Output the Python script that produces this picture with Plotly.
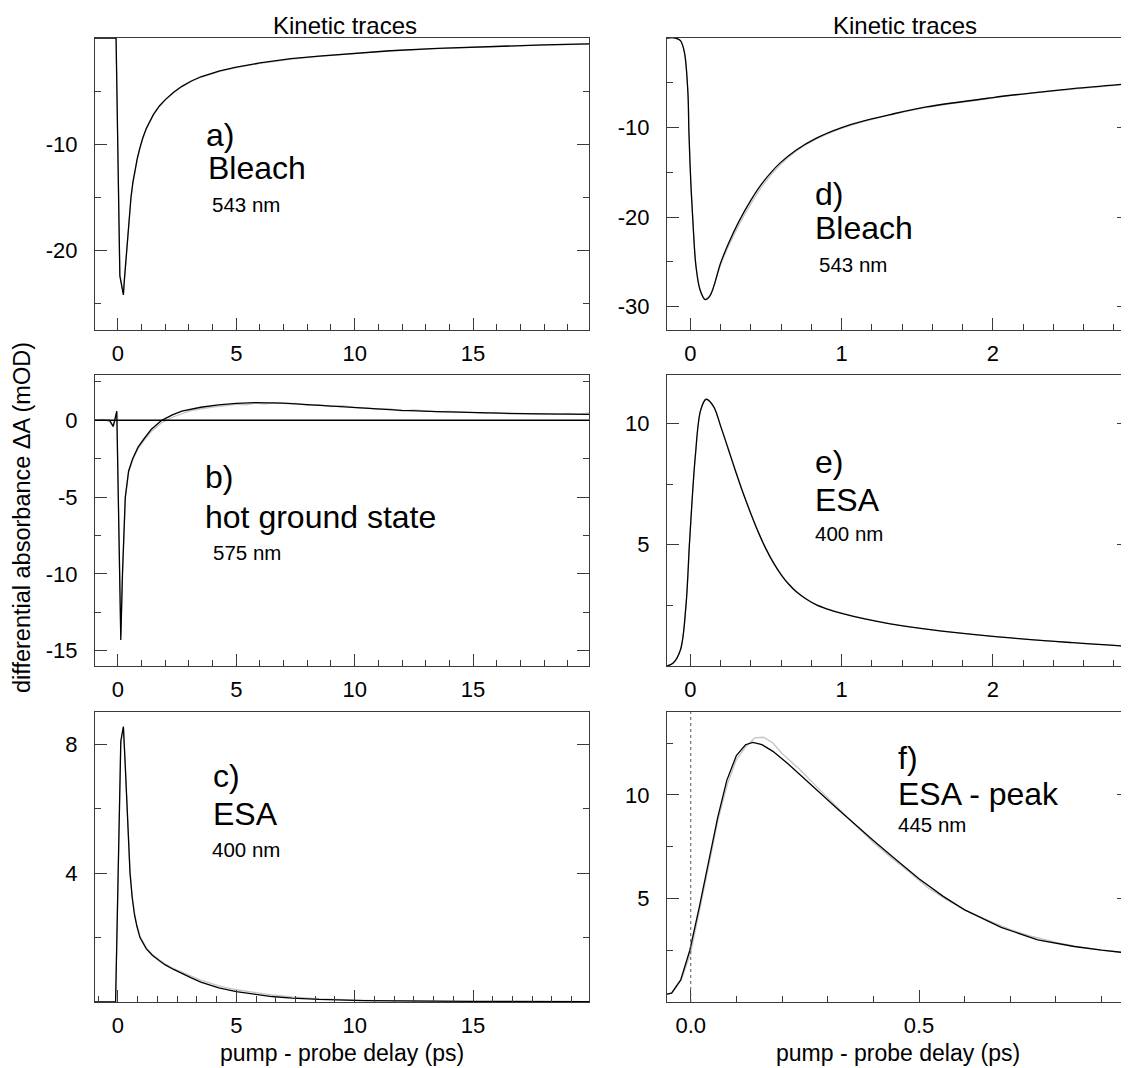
import plotly.graph_objects as go

# The page body adds an 8 px margin, so the figure is drawn 8 px smaller and all
# pixel positions below are given in figure coordinates (= screenshot - 8).
OFF = 8
W, H = 1129 - OFF, 1068 - OFF
FONT = "Liberation Sans, Arial, sans-serif"

# ---------------- data ----------------
# a) Bleach 543 nm (long range)
t_a = [-1.0, -0.08, 0.08, 0.23, 0.27, 0.32, 0.37, 0.42, 0.48, 0.55, 0.63, 0.72, 0.82, 0.92, 1.05,
       1.2, 1.35, 1.5, 1.75, 2.0, 2.35, 2.7, 3.1, 3.5, 4.3, 5.0, 6.0, 7.3, 8.5, 10.0, 11.5,
       13.5, 15.0, 16.6, 18.0, 20.0]
fit_a = [0.0, 0.0, -22.4, -24.2, -22.8, -21.3, -19.9, -18.3, -16.6, -15.0, -13.6, -12.4, -11.3,
         -10.4, -9.4, -8.5, -7.8, -7.2, -6.4, -5.8, -5.1, -4.55, -4.05, -3.65, -3.1, -2.75,
         -2.35, -1.95, -1.7, -1.42, -1.2, -0.98, -0.85, -0.73, -0.65, -0.55]
data_a = [0.0, 0.0, -22.3, -24.1, -22.9, -21.4, -20.0, -18.4, -16.7, -15.1, -13.7, -12.5, -11.4,
          -10.5, -9.5, -8.6, -7.9, -7.25, -6.45, -5.85, -5.15, -4.6, -4.1, -3.7, -3.15, -2.8,
          -2.4, -2.0, -1.72, -1.45, -1.22, -1.0, -0.86, -0.75, -0.66, -0.56]

# b) hot ground state 575 nm
t_b = [-1.0, -0.35, -0.2, -0.05, 0.12, 0.19, 0.31, 0.45, 0.62, 0.85, 1.08, 1.4, 1.85, 2.3,
       2.7, 3.5, 4.24, 5.0, 5.8, 7.0, 8.0, 9.0, 10.4, 12.0, 13.5, 15.0, 17.0, 20.0]
fit_b = [0.0, 0.0, -0.4, 0.6, -14.3, -10.0, -5.0, -3.3, -2.5, -1.75, -1.25, -0.6, 0.0, 0.35,
         0.6, 0.85, 1.0, 1.1, 1.15, 1.12, 1.02, 0.92, 0.78, 0.65, 0.57, 0.5, 0.43, 0.38]
t_b_data = [-1.0, -0.6, -0.35, -0.2, -0.05, 0.12, 0.19, 0.31, 0.45, 0.62, 0.85, 1.08, 1.4, 1.85,
            2.3, 2.7, 3.0, 3.4, 3.8, 4.2, 4.6, 5.0, 5.4, 5.8, 6.2, 6.6, 7.0, 7.5, 8.0, 8.5, 9.0,
            9.5, 10.0, 10.5, 11.0, 11.5, 12.0, 12.5, 13.0, 13.5, 14.0, 14.5, 15.0, 15.5, 16.0,
            16.5, 17.0, 17.5, 18.0, 18.5, 19.0, 19.5, 20.0]
data_b = [0.0, 0.05, -0.1, -0.45, 0.5, -14.0, -10.2, -5.1, -3.4, -2.6, -1.85, -1.35, -0.75, -0.15,
          0.2, 0.45, 0.6, 0.72, 0.82, 0.9, 0.95, 1.05, 1.0, 1.12, 1.05, 1.15, 1.08, 1.1, 0.98,
          1.02, 0.9, 0.95, 0.82, 0.8, 0.72, 0.75, 0.6, 0.68, 0.62, 0.55, 0.58, 0.52, 0.5, 0.45,
          0.48, 0.42, 0.45, 0.4, 0.42, 0.38, 0.45, 0.4, 0.5]

# c) ESA 400 nm (long range)
t_c = [-1.0, -0.1, 0.12, 0.23, 0.31, 0.39, 0.51, 0.6, 0.7, 0.8, 0.93, 1.2, 1.45, 1.75, 2.0, 2.35,
       2.7, 3.1, 3.5, 4.26, 5.0, 5.8, 6.5, 7.35, 8.5, 10.4, 12.5, 15.0, 20.0]
fit_c = [0.0, 0.0, 8.1, 8.55, 7.3, 6.0, 4.0, 3.25, 2.7, 2.35, 2.0, 1.65, 1.45, 1.28, 1.15,
         1.01, 0.88, 0.75, 0.62, 0.44, 0.32, 0.23, 0.17, 0.12, 0.08, 0.045, 0.03, 0.02, 0.01]
data_c = [0.0, 0.0, 8.0, 8.5, 7.35, 6.1, 4.05, 3.3, 2.75, 2.4, 2.05, 1.68, 1.48, 1.31, 1.18,
          1.04, 0.92, 0.8, 0.68, 0.5, 0.38, 0.29, 0.22, 0.16, 0.1, 0.05, 0.02, 0.0, -0.01]

# d) Bleach 543 nm (short range)
t_d = [-0.155, -0.1, -0.066, -0.04, -0.017, -0.01, 0.0024, 0.019, 0.036, 0.063, 0.097, 0.129,
       0.2, 0.25, 0.32, 0.4, 0.48, 0.59, 0.7, 0.83, 1.0, 1.16, 1.32, 1.56, 2.0, 2.25, 2.53, 2.9]
fit_d = [0.0, 0.0, -0.3, -1.6, -6.0, -10.5, -16.1, -21.3, -25.4, -28.1, -29.2, -28.8,
         -25.1, -23.0, -20.5, -18.1, -16.1, -14.0, -12.5, -11.2, -10.0, -9.2, -8.55, -7.7,
         -6.65, -6.15, -5.65, -5.1]
data_d = [0.0, 0.0, -0.3, -1.5, -6.1, -10.6, -16.0, -21.2, -25.3, -28.0, -29.1, -28.7,
          -25.3, -23.3, -20.9, -18.5, -16.4, -14.2, -12.6, -11.3, -10.1, -9.25, -8.6, -7.75,
          -6.7, -6.15, -5.7, -5.15]

# e) ESA 400 nm (short range)
t_e = [-0.155, -0.114, -0.066, -0.03, -0.005, 0.032, 0.068, 0.104, 0.153, 0.2, 0.25, 0.3, 0.35,
       0.4, 0.45, 0.5, 0.55, 0.6, 0.65, 0.7, 0.77, 0.83, 0.9, 1.0, 1.16, 1.32, 1.56, 2.0, 2.53,
       2.9]
fit_e = [0.0, 0.12, 0.67, 2.46, 5.2, 8.64, 10.56, 11.0, 10.7, 9.88, 8.95, 8.0, 7.1, 6.27, 5.5,
         4.82, 4.24, 3.76, 3.37, 3.06, 2.74, 2.53, 2.36, 2.17, 1.93, 1.74, 1.52, 1.22, 0.96, 0.81]
data_e = [0.0, 0.12, 0.66, 2.45, 5.2, 8.6, 10.55, 11.0, 10.72, 9.9, 8.97, 8.03, 7.12, 6.3, 5.52,
          4.84, 4.26, 3.78, 3.39, 3.08, 2.75, 2.54, 2.37, 2.18, 1.94, 1.75, 1.52, 1.22, 0.96,
          0.81]

# f) ESA - peak 445 nm
t_f = [-0.052, -0.042, -0.022, -0.002, 0.019, 0.039, 0.059, 0.079, 0.1, 0.12, 0.136, 0.156,
       0.18, 0.213, 0.25, 0.278, 0.32, 0.358, 0.4, 0.44, 0.5, 0.553, 0.6, 0.68, 0.76, 0.84,
       0.9, 0.96]
fit_f = [0.38, 0.43, 1.07, 2.5, 4.6, 6.84, 8.9, 10.7, 11.9, 12.42, 12.53, 12.42, 12.1, 11.5,
         10.78, 10.2, 9.35, 8.6, 7.8, 7.05, 5.95, 5.1, 4.45, 3.6, 3.0, 2.68, 2.5, 2.36]
t_f_data = [-0.052, -0.04, -0.02, 0.0, 0.02, 0.04, 0.06, 0.08, 0.1, 0.12, 0.14, 0.16, 0.18,
            0.2, 0.24, 0.28, 0.32, 0.36, 0.4, 0.44, 0.48, 0.52, 0.56, 0.6, 0.65, 0.7, 0.75,
            0.8, 0.85, 0.9, 0.96]
data_f = [0.38, 0.45, 1.1, 2.4, 4.5, 6.7, 8.8, 10.5, 11.7, 12.3, 12.75, 12.78, 12.5, 12.0,
          11.2, 10.3, 9.4, 8.55, 7.7, 6.95, 6.25, 5.5, 4.95, 4.45, 3.95, 3.5, 3.15, 2.88, 2.66,
          2.5, 2.35]

# ---------------- layout helpers ----------------
def px_x(p):
    return (p - OFF) / W


def px_y(p):
    return 1 - (p - OFF) / H


LEFT = [px_x(95), px_x(589)]
RIGHT = [px_x(667), 1.0]
ROWS = [[px_y(330), px_y(38)], [px_y(666), px_y(375)], [px_y(1002), px_y(712)]]
AX = "#3a3a3a"
GRAY = "#c4c4c4"
TICK = 22

fig = go.Figure()

panels = [
    ("x", "y", t_a, data_a, t_a, fit_a),
    ("x2", "y2", t_b_data, data_b, t_b, fit_b),
    ("x3", "y3", t_c, data_c, t_c, fit_c),
    ("x4", "y4", t_d, data_d, t_d, fit_d),
    ("x5", "y5", t_e, data_e, t_e, fit_e),
    ("x6", "y6", t_f_data, data_f, t_f, fit_f),
]
for i, (xa, ya, td, yd, tf, yf) in enumerate(panels):
    shape = "spline" if i in (3, 4) else "linear"
    fig.add_trace(go.Scatter(x=td, y=yd, xaxis=xa, yaxis=ya, mode="lines",
                             line=dict(color=GRAY, width=1.3, shape=shape), showlegend=False,
                             hoverinfo="skip"))
    fig.add_trace(go.Scatter(x=tf, y=yf, xaxis=xa, yaxis=ya, mode="lines",
                             line=dict(color="black", width=1.3, shape=shape), showlegend=False))


def xax(domain, anchor, rng, tickvals, ticktext, minor_dtick):
    return dict(domain=domain, anchor=anchor, range=rng, showline=True, linecolor=AX,
                linewidth=1.2, mirror=True, ticks="inside", ticklen=12, tickwidth=1,
                tickcolor=AX, showgrid=False, zeroline=False, tickmode="array",
                tickvals=tickvals, ticktext=ticktext,
                tickfont=dict(size=TICK, color="black", family=FONT), ticklabelstandoff=3,
                minor=dict(ticks="inside", ticklen=6, tickcolor=AX, dtick=minor_dtick, tick0=0,
                           showgrid=False))


def yax(domain, anchor, rng, tickvals, minor_vals):
    return dict(domain=domain, anchor=anchor, range=rng, showline=True, linecolor=AX,
                linewidth=1.2, mirror="ticks", ticks="inside", ticklen=12, tickwidth=1,
                tickcolor=AX, showgrid=False, zeroline=False, tickmode="array",
                tickvals=tickvals, ticktext=[("%g" % v) for v in tickvals],
                tickfont=dict(size=TICK, color="black", family=FONT),
                ticklabelstandoff=12,
                minor=dict(ticks="inside", ticklen=6, tickcolor=AX, tickmode="array",
                           tickvals=minor_vals, showgrid=False))


long_ticks = [0, 5, 10, 15]
short_ticks = [0, 1, 2]
fig.update_layout(
    xaxis=xax(LEFT, "y", [-0.97, 19.9], long_ticks, ["0", "5", "10", "15"], 1),
    yaxis=yax(ROWS[0], "x", [-27.5, 0], [-10, -20], [-5, -15, -25]),
    xaxis2=xax(LEFT, "y2", [-0.97, 19.9], long_ticks, ["0", "5", "10", "15"], 1),
    yaxis2=yax(ROWS[1], "x2", [-16, 2.95], [0, -5, -10, -15], [2.5, -2.5, -7.5, -12.5]),
    xaxis3=xax(LEFT, "y3", [-0.97, 19.9], long_ticks, ["0", "5", "10", "15"], 5 / 6),
    yaxis3=yax(ROWS[2], "x3", [0, 9], [4, 8], [2, 6]),
    xaxis4=xax(RIGHT, "y4", [-0.155, 2.9], short_ticks, ["0", "1", "2"], 0.2),
    yaxis4=yax(ROWS[0], "x4", [-32.6, 0], [-10, -20, -30], [-5, -15, -25]),
    xaxis5=xax(RIGHT, "y5", [-0.155, 2.9], short_ticks, ["0", "1", "2"], 0.2),
    yaxis5=yax(ROWS[1], "x5", [0, 12], [5, 10], [2.5, 7.5]),
    xaxis6=xax(RIGHT, "y6", [-0.052, 0.96], [0.0, 0.5], ["0.0", "0.5"], 0.1),
    yaxis6=yax(ROWS[2], "x6", [0, 14], [5, 10], [2.5, 7.5, 12.5]),
)

# zero line in b, dotted time-zero line in f
fig.add_shape(type="line", xref="x2 domain", yref="y2", x0=0, x1=1, y0=0, y1=0,
              line=dict(color="black", width=1.6))
fig.add_shape(type="line", xref="x6", yref="y6 domain", x0=0, x1=0, y0=0, y1=1,
              line=dict(color="#555555", width=1, dash="dot"))

annots = []


def label(xref, yref, x, y, text, size):
    annots.append(dict(xref=xref, yref=yref, x=x, y=y, text=text, showarrow=False,
                       xanchor="left", yanchor="middle",
                       font=dict(size=size, color="black", family=FONT)))


BIG, SMALL = 32, 20.5
label("x", "y", 3.65, -9.1, "a)", BIG)
label("x", "y", 3.7, -12.2, "Bleach", BIG)
label("x", "y", 3.9, -15.7, "543 nm", SMALL)
label("x2", "y2", 3.6, -3.7, "b)", BIG)
label("x2", "y2", 3.6, -6.3, "hot ground state", BIG)
label("x2", "y2", 3.95, -8.6, "575 nm", SMALL)
label("x3", "y3", 3.95, 7.0, "c)", BIG)
label("x3", "y3", 3.95, 5.85, "ESA", BIG)
label("x3", "y3", 3.9, 4.72, "400 nm", SMALL)
label("x4", "y4", 0.81, -17.4, "d)", BIG)
label("x4", "y4", 0.81, -21.2, "Bleach", BIG)
label("x4", "y4", 0.84, -25.3, "543 nm", SMALL)
label("x5", "y5", 0.81, 8.4, "e)", BIG)
label("x5", "y5", 0.81, 6.85, "ESA", BIG)
label("x5", "y5", 0.81, 5.48, "400 nm", SMALL)
label("x6", "y6", 0.449, 11.8, "f)", BIG)
label("x6", "y6", 0.449, 10.05, "ESA - peak", BIG)
label("x6", "y6", 0.449, 8.57, "445 nm", SMALL)

# column titles and axis titles
for cx in (345, 905):
    annots.append(dict(xref="paper", yref="paper", x=px_x(cx), y=px_y(25),
                       text="Kinetic traces", showarrow=False, xanchor="center",
                       yanchor="middle", font=dict(size=24, color="black", family=FONT)))
for dom in (LEFT, RIGHT):
    annots.append(dict(xref="paper", yref="paper", x=(dom[0] + dom[1]) / 2, y=px_y(1067),
                       text="pump - probe delay (ps)", showarrow=False, xanchor="center",
                       yanchor="bottom", borderpad=0,
                       font=dict(size=23, color="black", family=FONT)))
annots.append(dict(xref="paper", yref="paper", x=px_x(22), y=px_y(518),
                   text="differential absorbance \u0394A (mOD)", showarrow=False,
                   textangle=-90, xanchor="center", yanchor="middle",
                   font=dict(size=23.5, color="black", family=FONT)))

fig.update_layout(annotations=annots, width=W, height=H,
                  margin=dict(l=0, r=0, t=0, b=0), paper_bgcolor="white",
                  plot_bgcolor="white", showlegend=False)

fig.write_html("out.html")
